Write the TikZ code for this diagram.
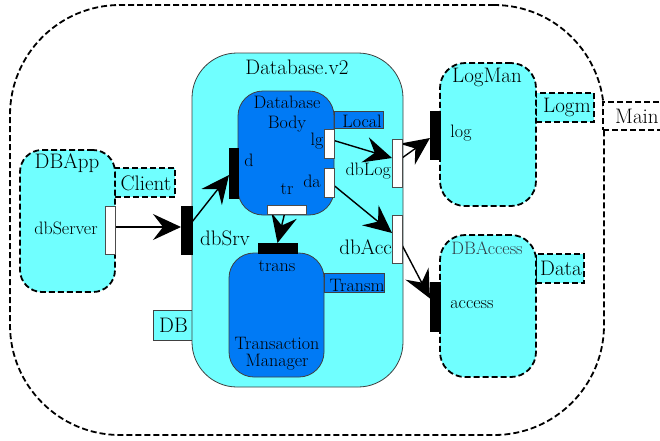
\documentclass[tikz,border=0pt]{standalone}
\usepackage{fontspec}
\usetikzlibrary{arrows.meta}
\definecolor{cyanf}{RGB}{112,255,255}
\definecolor{bluef}{RGB}{0,122,245}
\definecolor{dbtxt}{RGB}{50,60,70}
\tikzset{
  box/.style={rectangle, inner sep=0pt, outer sep=0pt},
  dashbox/.style={box, draw=black, line width=1.8pt, dash pattern=on 6pt off 3pt},
  solidbox/.style={box, draw=black!75, line width=0.8pt},
  wport/.style={box, draw=black!70, line width=0.7pt, fill=white},
  bport/.style={box, draw=black, line width=0.5pt, fill=black},
  tbig/.style={inner sep=0pt, font=\rmfamily\fontsize{21}{23}\selectfont},
  tmid/.style={inner sep=0pt, font=\rmfamily\fontsize{18}{19}\selectfont, align=center},
  conn/.style={-{Stealth[length=28pt,width=26pt,inset=10pt]}, line width=1.4pt},
}
\begin{document}
\begin{tikzpicture}[x=1pt,y=-1pt]
\useasboundingbox (0,0) rectangle (660,440);
\clip (0,0) rectangle (660,440);
\fill[white] (0,0) rectangle (660,440);
% Main
\node[dashbox, rounded corners=110pt, minimum width=594pt, minimum height=430pt] (Main) at (307,220) {};
\node[dashbox, fill=white, minimum width=77pt, minimum height=28pt] (MainTab) at (641.5,116) {};
\node[tbig, anchor=west] (MainLbl) at (615,116) {Main};
% DBApp
\node[dashbox, fill=cyanf, minimum width=60pt, minimum height=29pt] (ClientTab) at (145,182.5) {};
\node[tbig] (ClientLbl) at (146,183) {Client};
\node[dashbox, fill=cyanf, rounded corners=22pt, minimum width=95pt, minimum height=142pt] (DBApp) at (67.5,221) {};
\node[tbig] (DBAppLbl) at (67,163) {DBApp};
\node[tmid] (dbServerLbl) at (66,228) {dbServer};
% Database.v2
\node[solidbox, fill=cyanf, minimum width=47pt, minimum height=30pt] (DBTab) at (176.5,325) {};
\node[tbig, anchor=west] (DBLbl) at (159,325) {DB};
\node[solidbox, fill=cyanf, rounded corners=45pt, minimum width=211pt, minimum height=334pt] (Dbv2) at (297.5,220) {};
\node[tbig] (Dbv2Lbl) at (297,67) {Database.v2};
% Database Body
\node[solidbox, fill=bluef, minimum width=49pt, minimum height=17pt] (LocalTab) at (358.5,119.5) {};
\node[tmid] (LocalLbl) at (362,121) {Local};
\node[solidbox, fill=bluef, rounded corners=25pt, minimum width=96pt, minimum height=124pt] (DBody) at (286,153) {};
\node[tmid] (DBodyLbl1) at (287,102) {Database};
\node[tmid] (DBodyLbl2) at (287,124) {Body};
\node[tmid] (dLbl) at (249,160) {d};
\node[tmid] (lgLbl) at (317,141) {lg};
\node[tmid] (daLbl) at (312,181) {da};
\node[tmid] (trLbl) at (287,189) {tr};
% Transaction Manager
\node[solidbox, fill=bluef, minimum width=60pt, minimum height=19pt] (TransmTab) at (354,282.5) {};
\node[tmid] (TransmLbl) at (357,285) {Transm};
\node[solidbox, fill=bluef, rounded corners=25pt, minimum width=95pt, minimum height=124pt] (TM) at (276.5,315) {};
\node[tmid] (transLbl) at (277,266) {trans};
\node[tmid] (TMLbl1) at (277,343) {Transaction};
\node[tmid] (TMLbl2) at (277,362) {Manager};
\node[tbig] (dbSrvLbl) at (225,238) {dbSrv};
\node[tmid, anchor=east] (dbLogLbl) at (391,171) {dbLog};
\node[tbig, anchor=east] (dbAccLbl) at (392,247) {dbAcc};
% LogMan
\node[dashbox, fill=cyanf, minimum width=58pt, minimum height=29pt] (LogmTab) at (565,107.5) {};
\node[tbig] (LogmLbl) at (567,107) {Logm};
\node[dashbox, fill=cyanf, rounded corners=25pt, minimum width=96pt, minimum height=143pt] (LogMan) at (488,134.5) {};
\node[tbig] (LogManLbl) at (487,77) {LogMan};
\node[tmid] (logLbl) at (461,133) {log};
% DBAccess
\node[dashbox, fill=cyanf, minimum width=48pt, minimum height=29pt] (DataTab) at (560,268.5) {};
\node[tbig] (DataLbl) at (561,268) {Data};
\node[dashbox, fill=cyanf, rounded corners=25pt, minimum width=96pt, minimum height=142pt] (DBAccess) at (488,306) {};
\node[tmid, text=dbtxt] (DBAccessLbl) at (487,248) {DBAccess};
\node[tmid] (accessLbl) at (472,305) {access};
% ports (coordinates for connectors)
\node[box, minimum width=10pt, minimum height=48pt] (dbServerP) at (110,230) {};
\node[box, minimum width=11pt, minimum height=48pt] (dbSrvP) at (186.5,230) {};
\node[box, minimum width=9pt, minimum height=50pt] (dP) at (233.5,173) {};
\node[box, minimum width=10pt, minimum height=29pt] (lgP) at (329,143.5) {};
\node[box, minimum width=10pt, minimum height=29pt] (daP) at (329,182.5) {};
\node[box, minimum width=39pt, minimum height=9pt] (trP) at (286.5,209.5) {};
\node[box, minimum width=39pt, minimum height=10pt] (transP) at (277.5,248) {};
\node[box, minimum width=10pt, minimum height=48pt] (dbLogP) at (397,163) {};
\node[box, minimum width=10pt, minimum height=48pt] (dbAccP) at (397,239) {};
\node[box, minimum width=10pt, minimum height=48pt] (logP) at (435,135) {};
\node[box, minimum width=10pt, minimum height=49pt] (accessP) at (435,306.5) {};
% connectors
\draw[conn] ([yshift=3pt]dbServerP.east) -- ([yshift=3pt]dbSrvP.west);
\draw[conn] ([yshift=8pt]dbSrvP.east) -- ([yshift=-2pt]dP.west);
\draw[conn] ([yshift=3pt]lgP.east) -- ([yshift=5pt]dbLogP.west);
\draw[conn] ([yshift=5pt]dbLogP.east) -- ([yshift=-3pt]logP.west);
\draw[conn] ([yshift=-3pt]daP.east) -- ([yshift=6pt]dbAccP.west);
\draw[conn] ([yshift=-6pt]dbAccP.east) -- ([yshift=8pt]accessP.west);
\draw[conn] ([xshift=-2pt]trP.south) -- (transP.north);
% port drawings on top
\node[wport, minimum width=10pt, minimum height=48pt] at (dbServerP) {};
\node[bport, minimum width=11pt, minimum height=48pt] at (dbSrvP) {};
\node[bport, minimum width=9pt, minimum height=50pt] at (dP) {};
\node[wport, minimum width=10pt, minimum height=29pt] at (lgP) {};
\node[wport, minimum width=10pt, minimum height=29pt] at (daP) {};
\node[wport, minimum width=39pt, minimum height=9pt] at (trP) {};
\node[bport, minimum width=39pt, minimum height=10pt] at (transP) {};
\node[wport, minimum width=10pt, minimum height=48pt] at (dbLogP) {};
\node[wport, minimum width=10pt, minimum height=48pt] at (dbAccP) {};
\node[bport, minimum width=10pt, minimum height=48pt] at (logP) {};
\node[bport, minimum width=10pt, minimum height=49pt] at (accessP) {};
\end{tikzpicture}
\end{document}
